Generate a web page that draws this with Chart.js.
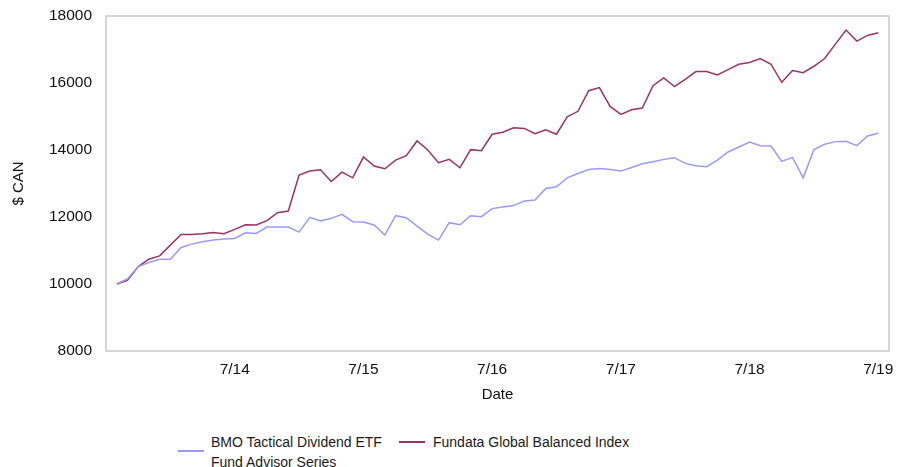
<!DOCTYPE html>
<html>
<head>
<meta charset="utf-8">
<script src="https://cdn.jsdelivr.net/npm/chart.js@4/dist/chart.umd.min.js"></script>
<style>
  body { margin: 0; background: #fff; font-family: "Liberation Sans", Arial, sans-serif; }
  #wrap { position: relative; width: 907px; height: 467px; }
  #box { position: absolute; left: 0; top: 0; width: 907px; height: 415px; }
  .leg { position: absolute; font-size: 14px; line-height: 20px; color: #1a1a1a; white-space: nowrap; }
  .sw { position: absolute; height: 2px; width: 26px; }
</style>
</head>
<body>
<div id="wrap">
  <div id="box"><canvas id="chart"></canvas></div>
  <div class="sw" id="sw1" style="left:178px; top:450px;"></div>
  <div class="leg" style="left:211px; top:432px;">BMO Tactical Dividend ETF<br>Fund Advisor Series</div>
  <div class="sw" id="sw2" style="left:399px; top:441px;"></div>
  <div class="leg" style="left:433px; top:432px;">Fundata Global Balanced Index</div>
</div>
<script>
const dates = [
  "8/13","9/13","10/13","11/13","12/13",
  "1/14","2/14","3/14","4/14","5/14","6/14","7/14","8/14","9/14","10/14","11/14","12/14",
  "1/15","2/15","3/15","4/15","5/15","6/15","7/15","8/15","9/15","10/15","11/15","12/15",
  "1/16","2/16","3/16","4/16","5/16","6/16","7/16","8/16","9/16","10/16","11/16","12/16",
  "1/17","2/17","3/17","4/17","5/17","6/17","7/17","8/17","9/17","10/17","11/17","12/17",
  "1/18","2/18","3/18","4/18","5/18","6/18","7/18","8/18","9/18","10/18","11/18","12/18",
  "1/19","2/19","3/19","4/19","5/19","6/19","7/19"
];

const fundName = ["BMO Tactical Dividend ETF", "Fund Advisor Series"];
const indexName = "Fundata Global Balanced Index";

const fundValues = [
  10000, 10150, 10520, 10640, 10740, 10740, 11090, 11190, 11260, 11310,
  11340, 11360, 11530, 11510, 11700, 11700, 11700, 11550, 11990, 11880,
  11960, 12080, 11860, 11850, 11760, 11460, 12040, 11980, 11730, 11490,
  11310, 11830, 11770, 12040, 12010, 12250, 12300, 12340, 12480, 12510,
  12850, 12900, 13170, 13300, 13420, 13450, 13420, 13370, 13480, 13590,
  13650, 13720, 13770, 13600, 13530, 13500, 13700, 13940, 14090, 14240,
  14130, 14120, 13660, 13780, 13170, 14010, 14170, 14250, 14260, 14130,
  14420, 14500
];

const indexValues = [
  10000, 10110, 10520, 10740, 10840, 11160, 11480, 11480, 11500, 11540,
  11500, 11630, 11770, 11760, 11890, 12130, 12180, 13250, 13370, 13410,
  13060, 13340, 13170, 13790, 13520, 13440, 13700, 13830, 14270, 14000,
  13620, 13720, 13470, 14010, 13980, 14470, 14530, 14665, 14645, 14490,
  14605, 14470, 14990, 15155, 15770, 15865, 15300, 15065, 15200, 15255,
  15920, 16150, 15890, 16110, 16340, 16340, 16240, 16400, 16560, 16610,
  16730, 16560, 16020, 16370, 16310, 16500, 16730, 17160, 17580, 17250,
  17420, 17500
];

const fundColor = "#9999FF";
const indexColor = "#993366";
document.getElementById("sw1").style.background = fundColor;
document.getElementById("sw2").style.background = indexColor;

const tickFont = { family: "'Liberation Sans', Arial, sans-serif", size: 15.5 };
const titleFont = { family: "'Liberation Sans', Arial, sans-serif", size: 15 };

// box around the plot area
const frame = {
  id: "frame",
  afterDraw(chart) {
    const { ctx, chartArea: a } = chart;
    ctx.save();
    ctx.strokeStyle = "#c8c8c8";
    ctx.lineWidth = 1.5;
    ctx.strokeRect(a.left, a.top, a.right - a.left, a.bottom - a.top);
    ctx.restore();
  }
};

new Chart(document.getElementById("chart"), {
  type: "line",
  data: {
    datasets: [
      {
        label: fundName.join(" "),
        data: fundValues.map((v, i) => ({ x: i, y: v })),
        borderColor: fundColor,
        borderWidth: 1.5,
        pointRadius: 0,
        tension: 0
      },
      {
        label: indexName,
        data: indexValues.map((v, i) => ({ x: i, y: v })),
        borderColor: indexColor,
        borderWidth: 1.5,
        pointRadius: 0,
        tension: 0
      }
    ]
  },
  options: {
    responsive: true,
    maintainAspectRatio: false,
    animation: false,
    layout: { padding: { top: 16, right: 18, left: 0, bottom: 0 } },
    plugins: {
      legend: { display: false },
      tooltip: { enabled: false }
    },
    scales: {
      x: {
        type: "linear",
        min: -1,
        max: dates.length,
        grid: { display: false, drawTicks: false },
        border: { display: false },
        afterBuildTicks: scale => {
          scale.ticks = dates
            .map((d, i) => (d.startsWith("7/") ? { value: i } : null))
            .filter(Boolean);
        },
        afterFit: scale => { scale.height = 64; },
        ticks: {
          font: tickFont,
          color: "#111",
          padding: 9,
          maxRotation: 0,
          autoSkip: false,
          callback: v => dates[v]
        },
        title: {
          display: true,
          text: "Date",
          font: titleFont,
          color: "#111",
          padding: { top: 0, bottom: 11 }
        }
      },
      y: {
        min: 8000,
        max: 18000,
        grid: { display: false, drawTicks: false },
        border: { display: false },
        afterFit: scale => {
          scale.width = 106;
          // tick padding only meant horizontally, not above/below the axis
          scale.paddingTop = 0;
          scale.paddingBottom = 0;
        },
        ticks: {
          stepSize: 2000,
          font: tickFont,
          color: "#111",
          padding: 14,
          callback: v => String(v)
        },
        title: {
          display: true,
          text: "$ CAN",
          font: titleFont,
          color: "#111",
          padding: { top: 10, bottom: 0 }
        }
      }
    }
  },
  plugins: [frame]
});
</script>
</body>
</html>
